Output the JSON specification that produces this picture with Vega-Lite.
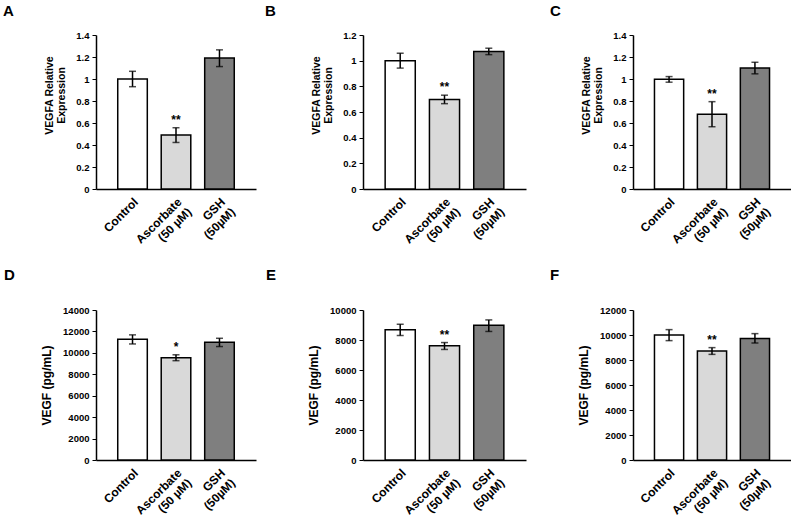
{
  "$schema": "https://vega.github.io/schema/vega-lite/v6.json",
  "padding": {"left": 3, "top": 4, "right": 0, "bottom": 0},
  "background": "white",
  "columns": 3,
  "spacing": {"row": 121, "column": 107},
  "bounds": "flush",
  "config": {
    "font": "Liberation Sans",
    "view": {"stroke": null},
    "axis": {"labelFont": "Liberation Sans", "titleFont": "Liberation Sans", "labelFontWeight": "bold", "labelColor": "black", "titleColor": "black", "titleFontWeight": "bold", "domainColor": "black", "tickColor": "black", "grid": false, "labelOverlap": false},
    "axisX": {"ticks": false, "labelAngle": -45, "labelAlign": "right", "labelBaseline": "top", "labelFontSize": 12, "labelLineHeight": 14, "labelPadding": 7, "title": null, "domainWidth": 1.5},
    "axisY": {"labelFontSize": 9.5, "tickSize": 4, "tickWidth": 1, "domainWidth": 1.5, "titleFontSize": 10.5, "labelPadding": 3, "titlePadding": 9, "titleLineHeight": 12, "labelOverlap": false},
    "title": {"fontSize": 15, "fontWeight": "bold", "anchor": "start", "frame": "group", "color": "black", "font": "Liberation Sans"}
  },
  "concat": [
    {
      "width": 160, "height": 154,
      "title": {"text": "A", "dx": -93, "offset": 11},
      "data": {"values": [
        {"group": "Control", "mean": 1.0, "lo": 0.93, "hi": 1.07, "sig": ""},
        {"group": "Ascorbate (50 µM)", "mean": 0.49, "lo": 0.423, "hi": 0.557, "sig": "**"},
        {"group": "GSH (50µM)", "mean": 1.19, "lo": 1.113, "hi": 1.265, "sig": ""}
      ]},
      "encoding": {"x": {"field": "group", "type": "nominal", "sort": null, "scale": {"paddingInner": 0.32, "paddingOuter": 0.5}, "axis": {"labelExpr": "split(replace(datum.label, ' (', '|('), '|')"}}},
      "layer": [
        {"mark": {"type": "bar", "stroke": "black", "strokeWidth": 1.5},
         "encoding": {
           "y": {"field": "mean", "type": "quantitative", "scale": {"domain": [0, 1.4], "nice": false}, "axis": {"values": [0, 0.2, 0.4, 0.6, 0.8, 1, 1.2, 1.4], "tickCount": 8, "labelOverlap": false, "format": ".1~f", "title": ["VEGFA Relative", "Expression"], "titleY": 60}},
           "fill": {"field": "group", "type": "nominal", "sort": null, "scale": {"domain": ["Control", "Ascorbate (50 µM)", "GSH (50µM)"], "range": ["#ffffff", "#d9d9d9", "#7f7f7f"]}, "legend": null}}},
        {"mark": {"type": "rule", "strokeWidth": 1.5, "color": "black"}, "encoding": {"y": {"field": "lo", "type": "quantitative", "axis": {"values": [0, 0.2, 0.4, 0.6, 0.8, 1, 1.2, 1.4], "tickCount": 8, "labelOverlap": false, "format": ".1~f", "title": ["VEGFA Relative", "Expression"], "titleY": 60}}, "y2": {"field": "hi"}}},
        {"mark": {"type": "tick", "size": 7, "thickness": 1.5, "color": "black"}, "encoding": {"y": {"field": "lo", "type": "quantitative", "axis": {"values": [0, 0.2, 0.4, 0.6, 0.8, 1, 1.2, 1.4], "tickCount": 8, "labelOverlap": false, "format": ".1~f", "title": ["VEGFA Relative", "Expression"], "titleY": 60}}}},
        {"mark": {"type": "tick", "size": 7, "thickness": 1.5, "color": "black"}, "encoding": {"y": {"field": "hi", "type": "quantitative", "axis": {"values": [0, 0.2, 0.4, 0.6, 0.8, 1, 1.2, 1.4], "tickCount": 8, "labelOverlap": false, "format": ".1~f", "title": ["VEGFA Relative", "Expression"], "titleY": 60}}}},
        {"mark": {"type": "text", "baseline": "bottom", "dy": -1, "fontSize": 12, "fontWeight": "bold", "color": "black"}, "encoding": {"y": {"field": "hi", "type": "quantitative", "axis": {"values": [0, 0.2, 0.4, 0.6, 0.8, 1, 1.2, 1.4], "tickCount": 8, "labelOverlap": false, "format": ".1~f", "title": ["VEGFA Relative", "Expression"], "titleY": 60}}, "text": {"field": "sig"}}}
      ]
    },
    {
      "width": 163, "height": 154,
      "title": {"text": "B", "dx": -98, "offset": 11},
      "data": {"values": [
        {"group": "Control", "mean": 1.0, "lo": 0.942, "hi": 1.058, "sig": ""},
        {"group": "Ascorbate (50 µM)", "mean": 0.698, "lo": 0.665, "hi": 0.731, "sig": "**"},
        {"group": "GSH (50µM)", "mean": 1.072, "lo": 1.047, "hi": 1.097, "sig": ""}
      ]},
      "encoding": {"x": {"field": "group", "type": "nominal", "sort": null, "scale": {"paddingInner": 0.32, "paddingOuter": 0.5}, "axis": {"labelExpr": "split(replace(datum.label, ' (', '|('), '|')"}}},
      "layer": [
        {"mark": {"type": "bar", "stroke": "black", "strokeWidth": 1.5},
         "encoding": {
           "y": {"field": "mean", "type": "quantitative", "scale": {"domain": [0, 1.2], "nice": false}, "axis": {"values": [0, 0.2, 0.4, 0.6, 0.8, 1, 1.2], "tickCount": 7, "labelOverlap": false, "format": ".1~f", "title": ["VEGFA Relative", "Expression"], "titleY": 60}},
           "fill": {"field": "group", "type": "nominal", "sort": null, "scale": {"domain": ["Control", "Ascorbate (50 µM)", "GSH (50µM)"], "range": ["#ffffff", "#bfbfbf", "#7f7f7f"]}, "legend": null}}},
        {"mark": {"type": "rule", "strokeWidth": 1.5, "color": "black"}, "encoding": {"y": {"field": "lo", "type": "quantitative", "axis": {"values": [0, 0.2, 0.4, 0.6, 0.8, 1, 1.2], "tickCount": 7, "labelOverlap": false, "format": ".1~f", "title": ["VEGFA Relative", "Expression"], "titleY": 60}}, "y2": {"field": "hi"}}},
        {"mark": {"type": "tick", "size": 7, "thickness": 1.5, "color": "black"}, "encoding": {"y": {"field": "lo", "type": "quantitative", "axis": {"values": [0, 0.2, 0.4, 0.6, 0.8, 1, 1.2], "tickCount": 7, "labelOverlap": false, "format": ".1~f", "title": ["VEGFA Relative", "Expression"], "titleY": 60}}}},
        {"mark": {"type": "tick", "size": 7, "thickness": 1.5, "color": "black"}, "encoding": {"y": {"field": "hi", "type": "quantitative", "axis": {"values": [0, 0.2, 0.4, 0.6, 0.8, 1, 1.2], "tickCount": 7, "labelOverlap": false, "format": ".1~f", "title": ["VEGFA Relative", "Expression"], "titleY": 60}}}},
        {"mark": {"type": "text", "baseline": "bottom", "dy": -1, "fontSize": 12, "fontWeight": "bold", "color": "black"}, "encoding": {"y": {"field": "hi", "type": "quantitative", "axis": {"values": [0, 0.2, 0.4, 0.6, 0.8, 1, 1.2], "tickCount": 7, "labelOverlap": false, "format": ".1~f", "title": ["VEGFA Relative", "Expression"], "titleY": 60}}, "text": {"field": "sig"}}}
      ]
    },
    {
      "width": 158, "height": 154,
      "title": {"text": "C", "dx": -83, "offset": 11},
      "data": {"values": [
        {"group": "Control", "mean": 0.997, "lo": 0.971, "hi": 1.022, "sig": ""},
        {"group": "Ascorbate (50 µM)", "mean": 0.68, "lo": 0.566, "hi": 0.794, "sig": "**"},
        {"group": "GSH (50µM)", "mean": 1.1, "lo": 1.047, "hi": 1.152, "sig": ""}
      ]},
      "encoding": {"x": {"field": "group", "type": "nominal", "sort": null, "scale": {"paddingInner": 0.32, "paddingOuter": 0.5}, "axis": {"labelExpr": "split(replace(datum.label, ' (', '|('), '|')"}}},
      "layer": [
        {"mark": {"type": "bar", "stroke": "black", "strokeWidth": 1.5},
         "encoding": {
           "y": {"field": "mean", "type": "quantitative", "scale": {"domain": [0, 1.4], "nice": false}, "axis": {"values": [0, 0.2, 0.4, 0.6, 0.8, 1, 1.2, 1.4], "tickCount": 8, "labelOverlap": false, "format": ".1~f", "title": ["VEGFA Relative", "Expression"], "titleY": 60}},
           "fill": {"field": "group", "type": "nominal", "sort": null, "scale": {"domain": ["Control", "Ascorbate (50 µM)", "GSH (50µM)"], "range": ["#ffffff", "#bfbfbf", "#7f7f7f"]}, "legend": null}}},
        {"mark": {"type": "rule", "strokeWidth": 1.5, "color": "black"}, "encoding": {"y": {"field": "lo", "type": "quantitative", "axis": {"values": [0, 0.2, 0.4, 0.6, 0.8, 1, 1.2, 1.4], "tickCount": 8, "labelOverlap": false, "format": ".1~f", "title": ["VEGFA Relative", "Expression"], "titleY": 60}}, "y2": {"field": "hi"}}},
        {"mark": {"type": "tick", "size": 7, "thickness": 1.5, "color": "black"}, "encoding": {"y": {"field": "lo", "type": "quantitative", "axis": {"values": [0, 0.2, 0.4, 0.6, 0.8, 1, 1.2, 1.4], "tickCount": 8, "labelOverlap": false, "format": ".1~f", "title": ["VEGFA Relative", "Expression"], "titleY": 60}}}},
        {"mark": {"type": "tick", "size": 7, "thickness": 1.5, "color": "black"}, "encoding": {"y": {"field": "hi", "type": "quantitative", "axis": {"values": [0, 0.2, 0.4, 0.6, 0.8, 1, 1.2, 1.4], "tickCount": 8, "labelOverlap": false, "format": ".1~f", "title": ["VEGFA Relative", "Expression"], "titleY": 60}}}},
        {"mark": {"type": "text", "baseline": "bottom", "dy": -1, "fontSize": 12, "fontWeight": "bold", "color": "black"}, "encoding": {"y": {"field": "hi", "type": "quantitative", "axis": {"values": [0, 0.2, 0.4, 0.6, 0.8, 1, 1.2, 1.4], "tickCount": 8, "labelOverlap": false, "format": ".1~f", "title": ["VEGFA Relative", "Expression"], "titleY": 60}}, "text": {"field": "sig"}}}
      ]
    },
    {
      "width": 160, "height": 150,
      "title": {"text": "D", "dx": -92, "offset": 22},
      "data": {"values": [
        {"group": "Control", "mean": 11260, "lo": 10830, "hi": 11680, "sig": ""},
        {"group": "Ascorbate (50 µM)", "mean": 9550, "lo": 9270, "hi": 9820, "sig": "*"},
        {"group": "GSH (50µM)", "mean": 10980, "lo": 10590, "hi": 11360, "sig": ""}
      ]},
      "encoding": {"x": {"field": "group", "type": "nominal", "sort": null, "scale": {"paddingInner": 0.32, "paddingOuter": 0.5}, "axis": {"labelExpr": "split(replace(datum.label, ' (', '|('), '|')"}}},
      "layer": [
        {"mark": {"type": "bar", "stroke": "black", "strokeWidth": 1.5},
         "encoding": {
           "y": {"field": "mean", "type": "quantitative", "scale": {"domain": [0, 14000], "nice": false}, "axis": {"values": [0, 2000, 4000, 6000, 8000, 10000, 12000, 14000], "tickCount": 8, "labelOverlap": false, "format": "d", "title": "VEGF (pg/mL)", "titleFontSize": 12}},
           "fill": {"field": "group", "type": "nominal", "sort": null, "scale": {"domain": ["Control", "Ascorbate (50 µM)", "GSH (50µM)"], "range": ["#ffffff", "#bfbfbf", "#7f7f7f"]}, "legend": null}}},
        {"mark": {"type": "rule", "strokeWidth": 1.5, "color": "black"}, "encoding": {"y": {"field": "lo", "type": "quantitative", "axis": {"values": [0, 2000, 4000, 6000, 8000, 10000, 12000, 14000], "tickCount": 8, "labelOverlap": false, "format": "d", "title": "VEGF (pg/mL)", "titleFontSize": 12}}, "y2": {"field": "hi"}}},
        {"mark": {"type": "tick", "size": 7, "thickness": 1.5, "color": "black"}, "encoding": {"y": {"field": "lo", "type": "quantitative", "axis": {"values": [0, 2000, 4000, 6000, 8000, 10000, 12000, 14000], "tickCount": 8, "labelOverlap": false, "format": "d", "title": "VEGF (pg/mL)", "titleFontSize": 12}}}},
        {"mark": {"type": "tick", "size": 7, "thickness": 1.5, "color": "black"}, "encoding": {"y": {"field": "hi", "type": "quantitative", "axis": {"values": [0, 2000, 4000, 6000, 8000, 10000, 12000, 14000], "tickCount": 8, "labelOverlap": false, "format": "d", "title": "VEGF (pg/mL)", "titleFontSize": 12}}}},
        {"mark": {"type": "text", "baseline": "bottom", "dy": -1, "fontSize": 12, "fontWeight": "bold", "color": "black"}, "encoding": {"y": {"field": "hi", "type": "quantitative", "axis": {"values": [0, 2000, 4000, 6000, 8000, 10000, 12000, 14000], "tickCount": 8, "labelOverlap": false, "format": "d", "title": "VEGF (pg/mL)", "titleFontSize": 12}}, "text": {"field": "sig"}}}
      ]
    },
    {
      "width": 163, "height": 150,
      "title": {"text": "E", "dx": -97, "offset": 22},
      "data": {"values": [
        {"group": "Control", "mean": 8690, "lo": 8300, "hi": 9050, "sig": ""},
        {"group": "Ascorbate (50 µM)", "mean": 7610, "lo": 7370, "hi": 7830, "sig": "**"},
        {"group": "GSH (50µM)", "mean": 8980, "lo": 8570, "hi": 9340, "sig": ""}
      ]},
      "encoding": {"x": {"field": "group", "type": "nominal", "sort": null, "scale": {"paddingInner": 0.32, "paddingOuter": 0.5}, "axis": {"labelExpr": "split(replace(datum.label, ' (', '|('), '|')"}}},
      "layer": [
        {"mark": {"type": "bar", "stroke": "black", "strokeWidth": 1.5},
         "encoding": {
           "y": {"field": "mean", "type": "quantitative", "scale": {"domain": [0, 10000], "nice": false}, "axis": {"values": [0, 2000, 4000, 6000, 8000, 10000], "tickCount": 6, "labelOverlap": false, "format": "d", "title": "VEGF (pg/mL)", "titleFontSize": 12}},
           "fill": {"field": "group", "type": "nominal", "sort": null, "scale": {"domain": ["Control", "Ascorbate (50 µM)", "GSH (50µM)"], "range": ["#ffffff", "#bfbfbf", "#7f7f7f"]}, "legend": null}}},
        {"mark": {"type": "rule", "strokeWidth": 1.5, "color": "black"}, "encoding": {"y": {"field": "lo", "type": "quantitative", "axis": {"values": [0, 2000, 4000, 6000, 8000, 10000], "tickCount": 6, "labelOverlap": false, "format": "d", "title": "VEGF (pg/mL)", "titleFontSize": 12}}, "y2": {"field": "hi"}}},
        {"mark": {"type": "tick", "size": 7, "thickness": 1.5, "color": "black"}, "encoding": {"y": {"field": "lo", "type": "quantitative", "axis": {"values": [0, 2000, 4000, 6000, 8000, 10000], "tickCount": 6, "labelOverlap": false, "format": "d", "title": "VEGF (pg/mL)", "titleFontSize": 12}}}},
        {"mark": {"type": "tick", "size": 7, "thickness": 1.5, "color": "black"}, "encoding": {"y": {"field": "hi", "type": "quantitative", "axis": {"values": [0, 2000, 4000, 6000, 8000, 10000], "tickCount": 6, "labelOverlap": false, "format": "d", "title": "VEGF (pg/mL)", "titleFontSize": 12}}}},
        {"mark": {"type": "text", "baseline": "bottom", "dy": -1, "fontSize": 12, "fontWeight": "bold", "color": "black"}, "encoding": {"y": {"field": "hi", "type": "quantitative", "axis": {"values": [0, 2000, 4000, 6000, 8000, 10000], "tickCount": 6, "labelOverlap": false, "format": "d", "title": "VEGF (pg/mL)", "titleFontSize": 12}}, "text": {"field": "sig"}}}
      ]
    },
    {
      "width": 158, "height": 150,
      "title": {"text": "F", "dx": -83, "offset": 22},
      "data": {"values": [
        {"group": "Control", "mean": 10000, "lo": 9550, "hi": 10430, "sig": ""},
        {"group": "Ascorbate (50 µM)", "mean": 8720, "lo": 8450, "hi": 8990, "sig": "**"},
        {"group": "GSH (50µM)", "mean": 9730, "lo": 9360, "hi": 10110, "sig": ""}
      ]},
      "encoding": {"x": {"field": "group", "type": "nominal", "sort": null, "scale": {"paddingInner": 0.32, "paddingOuter": 0.5}, "axis": {"labelExpr": "split(replace(datum.label, ' (', '|('), '|')"}}},
      "layer": [
        {"mark": {"type": "bar", "stroke": "black", "strokeWidth": 1.5},
         "encoding": {
           "y": {"field": "mean", "type": "quantitative", "scale": {"domain": [0, 12000], "nice": false}, "axis": {"values": [0, 2000, 4000, 6000, 8000, 10000, 12000], "tickCount": 7, "labelOverlap": false, "format": "d", "title": "VEGF (pg/mL)", "titleFontSize": 12}},
           "fill": {"field": "group", "type": "nominal", "sort": null, "scale": {"domain": ["Control", "Ascorbate (50 µM)", "GSH (50µM)"], "range": ["#ffffff", "#bfbfbf", "#7f7f7f"]}, "legend": null}}},
        {"mark": {"type": "rule", "strokeWidth": 1.5, "color": "black"}, "encoding": {"y": {"field": "lo", "type": "quantitative", "axis": {"values": [0, 2000, 4000, 6000, 8000, 10000, 12000], "tickCount": 7, "labelOverlap": false, "format": "d", "title": "VEGF (pg/mL)", "titleFontSize": 12}}, "y2": {"field": "hi"}}},
        {"mark": {"type": "tick", "size": 7, "thickness": 1.5, "color": "black"}, "encoding": {"y": {"field": "lo", "type": "quantitative", "axis": {"values": [0, 2000, 4000, 6000, 8000, 10000, 12000], "tickCount": 7, "labelOverlap": false, "format": "d", "title": "VEGF (pg/mL)", "titleFontSize": 12}}}},
        {"mark": {"type": "tick", "size": 7, "thickness": 1.5, "color": "black"}, "encoding": {"y": {"field": "hi", "type": "quantitative", "axis": {"values": [0, 2000, 4000, 6000, 8000, 10000, 12000], "tickCount": 7, "labelOverlap": false, "format": "d", "title": "VEGF (pg/mL)", "titleFontSize": 12}}}},
        {"mark": {"type": "text", "baseline": "bottom", "dy": -1, "fontSize": 12, "fontWeight": "bold", "color": "black"}, "encoding": {"y": {"field": "hi", "type": "quantitative", "axis": {"values": [0, 2000, 4000, 6000, 8000, 10000, 12000], "tickCount": 7, "labelOverlap": false, "format": "d", "title": "VEGF (pg/mL)", "titleFontSize": 12}}, "text": {"field": "sig"}}}
      ]
    }
  ]
}
